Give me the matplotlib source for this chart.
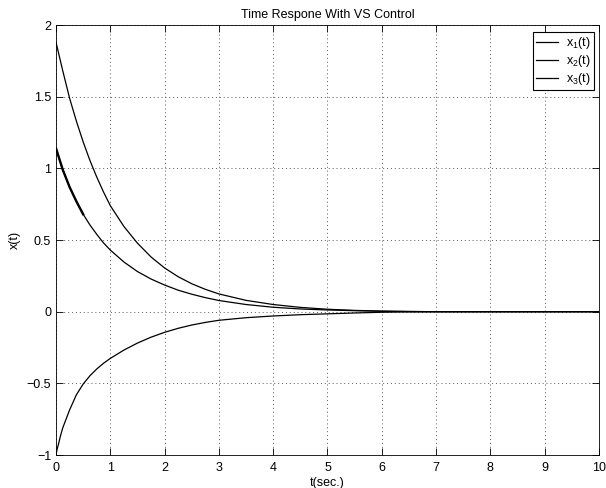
import matplotlib
matplotlib.use("Agg")
import matplotlib.pyplot as plt

plt.rcParams['font.family'] = ['Liberation Sans', 'DejaVu Sans']
plt.rcParams['mathtext.fontset'] = 'custom'
plt.rcParams['mathtext.rm'] = 'Liberation Sans'
plt.rcParams['mathtext.it'] = 'Liberation Sans'
plt.rcParams['mathtext.default'] = 'regular'

# values
t = [0, 0.125, 0.25, 0.375, 0.5, 0.625, 0.75, 0.875, 1.0, 1.25, 1.5, 1.75, 2.0, 2.25, 2.5, 2.75,
     3.0, 3.5, 4.0, 4.5, 5.0, 5.5, 6.0, 6.5, 7.0, 8.0, 9.0, 10.0]
x1 = [1.88, 1.68, 1.49, 1.33, 1.185, 1.055, 0.94, 0.835, 0.74, 0.595, 0.478, 0.382, 0.305, 0.244, 0.195, 0.156,
      0.124, 0.079, 0.05, 0.03, 0.017, 0.009, 0.004, 0.0015, 0, 0, 0, 0]
x2 = [1.14, 0.99, 0.87, 0.77, 0.68, 0.605, 0.54, 0.48, 0.43, 0.347, 0.28, 0.228, 0.186, 0.15, 0.122, 0.098,
      0.078, 0.05, 0.031, 0.019, 0.012, 0.007, 0.003, 0.001, 0, 0, 0, 0]
x3 = [-1, -0.81, -0.686, -0.58, -0.505, -0.447, -0.4, -0.36, -0.326, -0.268, -0.219, -0.178, -0.144, -0.116, -0.093, -0.075,
      -0.06, -0.042, -0.03, -0.021, -0.015, -0.009, -0.004, -0.0015, 0, 0, 0, 0]
t3_start = [0, 0.02, 0.05, 0.08, 0.125]
x3_start = [-1, -0.96, -0.918, -0.87, -0.81]

labels = ['x$_1$(t)', 'x$_2$(t)', 'x$_3$(t)']
xticks = [0, 1, 2, 3, 4, 5, 6, 7, 8, 9, 10]
yticks = [-1, -0.5, 0, 0.5, 1, 1.5, 2]
ytick_labels = ['\u22121', '\u22120.5', '0', '0.5', '1', '1.5', '2']

fig = plt.figure(figsize=(6.06, 4.88), dpi=100)
ax = fig.add_axes([0.0924, 0.0676, 0.8960, 0.8811])

ax.plot(t, x1, color='k', lw=0.9, label=labels[0])
ax.plot(t, x2, color='k', lw=0.9, label=labels[1])
# thicker start: chattering of the switching control
n = t.index(0.5) + 1
ax.plot(t[:n], x2[:n], color='k', lw=1.7)
ax.plot(t3_start + t[1:], x3_start + x3[1:], color='k', lw=0.9, label=labels[2])

ax.set_xlim(0, 10)
ax.set_ylim(-1, 2)
ax.set_xticks(xticks)
ax.set_xticklabels([str(v) for v in xticks])
ax.set_yticks(yticks)
ax.set_yticklabels(ytick_labels)
ax.tick_params(direction='in', top=True, right=True, length=5, width=0.6, labelsize=9)
ax.tick_params(axis='x', pad=5)
for s in ax.spines.values():
    s.set_linewidth(0.6)
ax.grid(True, linestyle=(0, (1, 3)), color='0.35', linewidth=0.7)

ax.set_title('Time Respone With VS Control', fontsize=9, pad=5)
ax.set_xlabel('t(sec.)', fontsize=9, labelpad=2)
ax.set_ylabel('x(t)', fontsize=9, labelpad=4)

leg = ax.legend(loc='upper right', bbox_to_anchor=(0.990, 0.983), borderaxespad=0,
                fontsize=9, fancybox=False, edgecolor='k', framealpha=1,
                handlelength=1.8, handletextpad=0.6, labelspacing=0.15, borderpad=0.25)
leg.get_frame().set_linewidth(0.8)

fig.savefig('out.png', dpi=100)
